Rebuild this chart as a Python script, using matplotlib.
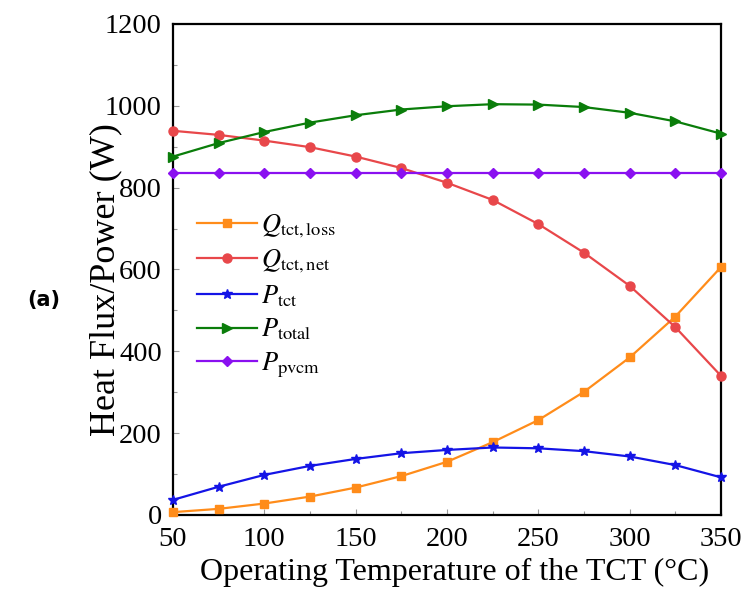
import matplotlib

matplotlib.use("Agg")
import matplotlib.pyplot as plt
from matplotlib.ticker import MultipleLocator

plt.rcParams["font.family"] = ["Liberation Serif", "DejaVu Serif"]
plt.rcParams["mathtext.fontset"] = "stix"

temps = [50, 75, 100, 125, 150, 175, 200, 225, 250, 275, 300, 325, 350]
q_loss = [7, 15, 28, 45, 67, 95, 130, 178, 232, 301, 385, 485, 606]
q_net = [939, 929, 915, 899, 876, 848, 812, 770, 711, 641, 560, 459, 340]
p_tct = [37, 69, 98, 120, 137, 151, 159, 165, 163, 156, 143, 122, 92]
p_total = [876, 909, 936, 959, 977, 991, 999, 1004, 1003, 997, 983, 962, 932]
p_pvcm = [837] * 13

series = [
    (q_loss, r"$Q_{\mathrm{tct,loss}}$", "#FF8C1A", "s", 5.5),
    (q_net, r"$Q_{\mathrm{tct,net}}$", "#E8474A", "o", 6.5),
    (p_tct, r"$P_{\mathrm{tct}}$", "#1414E6", "*", 7.5),
    (p_total, r"$P_{\mathrm{total}}$", "#0A7D0A", ">", 6.5),
    (p_pvcm, r"$P_{\mathrm{pvcm}}$", "#8A10F0", "D", 5.5),
]

fig = plt.figure(figsize=(7.45, 5.94), dpi=100)
ax = fig.add_axes([0.2322, 0.1330, 0.7356, 0.8266])

for vals, label, color, marker, ms in series:
    ax.plot(temps, vals, color=color, marker=marker, markersize=ms,
            linewidth=1.6, label=label, clip_on=False, zorder=3)

ax.set_xlim(50, 350)
ax.set_ylim(0, 1200)
ax.xaxis.set_major_locator(MultipleLocator(50))
ax.xaxis.set_minor_locator(MultipleLocator(25))
ax.yaxis.set_major_locator(MultipleLocator(200))
ax.yaxis.set_minor_locator(MultipleLocator(100))
ax.tick_params(which="both", direction="in", top=False, right=False,
               labelsize=20.5, color="#999999")
ax.tick_params(which="major", length=4, width=0.8)
ax.tick_params(which="minor", length=3, width=0.8)
ax.tick_params(axis="x", which="major", pad=9)
ax.tick_params(axis="y", which="major", pad=8)
for sp in ax.spines.values():
    sp.set_linewidth(1.6)

ax.set_xlabel("Operating Temperature of the TCT (\u00b0C)", fontsize=23)
ax.set_ylabel("Heat Flux/Power (W)", fontsize=26)
ax.xaxis.set_label_coords(0.514, -0.088)
ax.yaxis.set_label_coords(-0.093, 0.48)

ax.legend(loc="upper left", bbox_to_anchor=(0.0, 0.665), frameon=False,
          fontsize=19, handlelength=2.3, handletextpad=0.15,
          labelspacing=0.3, borderaxespad=0.5)

fig.text(0.036, 0.495, "(a)", fontsize=15, fontweight="bold",
         family=["DejaVu Sans"], va="center")

fig.savefig("out.png", dpi=100)
